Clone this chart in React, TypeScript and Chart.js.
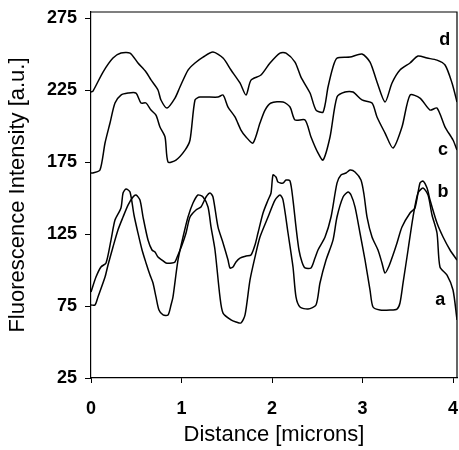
import React, { useEffect, useRef } from "react";
import { Chart, registerables } from "chart.js";

Chart.register(...registerables);

// Distance [microns] and fluorescence intensity [a.u.]
const aX = [0, 0.055, 0.11, 0.166, 0.221, 0.265, 0.331, 0.354, 0.387, 0.431, 0.475, 0.519, 0.564, 0.608, 0.652, 0.685, 0.718, 0.751, 0.796, 0.851, 0.884, 0.906, 0.961, 1.017, 1.072, 1.127, 1.182, 1.238, 1.293, 1.326, 1.37, 1.425, 1.459, 1.547, 1.602, 1.657, 1.702, 1.757, 1.812, 1.867, 1.956, 2.033, 2.088, 2.122, 2.177, 2.232, 2.265, 2.309, 2.398, 2.486, 2.53, 2.597, 2.674, 2.718, 2.785, 2.84, 2.873, 2.917, 2.972, 3.028, 3.083, 3.116, 3.193, 3.304, 3.381, 3.414, 3.448, 3.503, 3.558, 3.613, 3.669, 3.724, 3.768, 3.823, 3.856, 3.934, 4.0, 4.044];
const aY = [84.7, 95.1, 102.1, 104.9, 120.8, 134.7, 143.1, 153.5, 156.3, 154.2, 138.2, 125.7, 113.9, 104.9, 96.5, 91.0, 81.3, 72.2, 68.8, 68.8, 75.7, 81.3, 106.9, 122.9, 136.8, 146.5, 152.1, 150.7, 143.8, 129.9, 113.9, 81.3, 70.1, 65.3, 63.9, 63.2, 68.8, 93.1, 109.0, 122.9, 136.8, 148.6, 152.1, 148.6, 125.7, 102.1, 81.3, 74.3, 72.9, 75.7, 91.0, 106.9, 120.8, 136.8, 150.7, 154.2, 152.1, 143.8, 125.7, 106.9, 86.1, 74.3, 72.2, 72.2, 72.9, 77.1, 91.0, 113.9, 136.8, 153.5, 156.9, 152.1, 138.2, 125.7, 102.1, 96.5, 86.1, 65.3];

const bX = [0, 0.044, 0.077, 0.155, 0.188, 0.243, 0.298, 0.354, 0.409, 0.464, 0.497, 0.541, 0.575, 0.63, 0.674, 0.707, 0.74, 0.785, 0.829, 0.895, 0.928, 0.961, 1.006, 1.05, 1.094, 1.16, 1.215, 1.271, 1.315, 1.348, 1.403, 1.459, 1.514, 1.536, 1.569, 1.602, 1.646, 1.713, 1.768, 1.812, 1.845, 1.901, 1.956, 1.989, 2.011, 2.044, 2.066, 2.122, 2.155, 2.199, 2.232, 2.265, 2.298, 2.331, 2.365, 2.431, 2.475, 2.508, 2.586, 2.652, 2.718, 2.762, 2.818, 2.862, 2.917, 2.983, 3.017, 3.05, 3.105, 3.171, 3.215, 3.249, 3.293, 3.337, 3.381, 3.436, 3.525, 3.58, 3.635, 3.669, 3.713, 3.746, 3.823, 3.89, 3.967, 4.044];
const bY = [75.7, 75.7, 81.3, 95.1, 103.5, 116.0, 127.8, 136.8, 145.1, 150.7, 152.1, 148.6, 136.8, 120.8, 113.9, 112.5, 109.0, 106.9, 104.9, 104.9, 105.6, 110.4, 117.4, 125.7, 136.8, 141.7, 143.8, 150.7, 153.5, 150.7, 129.9, 118.8, 106.9, 101.4, 102.1, 105.6, 108.3, 109.7, 110.4, 117.4, 125.7, 139.6, 148.6, 153.5, 166.0, 164.6, 161.1, 160.4, 162.5, 161.8, 148.6, 129.9, 113.9, 105.6, 101.4, 101.4, 108.3, 113.9, 122.9, 136.8, 160.4, 166.0, 167.4, 169.4, 168.1, 162.5, 152.1, 136.8, 122.9, 113.9, 104.9, 97.9, 102.8, 110.4, 118.8, 129.9, 139.6, 143.1, 160.4, 161.8, 156.9, 148.6, 132.6, 122.9, 113.9, 106.9];

const cX = [0, 0.022, 0.099, 0.155, 0.21, 0.265, 0.331, 0.409, 0.497, 0.552, 0.608, 0.663, 0.718, 0.762, 0.818, 0.851, 0.939, 1.039, 1.094, 1.149, 1.204, 1.403, 1.459, 1.514, 1.591, 1.657, 1.713, 1.79, 1.867, 1.923, 1.989, 2.122, 2.199, 2.254, 2.365, 2.431, 2.508, 2.564, 2.641, 2.718, 2.807, 2.895, 2.994, 3.105, 3.16, 3.249, 3.337, 3.436, 3.525, 3.635, 3.746, 3.823, 3.912, 4.0, 4.044];
const cY = [167.4, 167.4, 169.4, 188.2, 202.1, 216.0, 221.5, 222.9, 222.9, 216.0, 216.0, 211.1, 207.6, 199.3, 192.4, 175.0, 176.4, 183.3, 190.3, 218.1, 220.1, 220.1, 221.5, 213.2, 206.3, 197.2, 192.4, 188.2, 202.1, 211.1, 216.0, 216.7, 213.2, 204.2, 204.2, 192.4, 181.3, 176.4, 192.4, 220.1, 223.6, 223.6, 218.1, 216.0, 206.3, 195.1, 184.7, 199.3, 221.5, 219.4, 211.1, 212.5, 199.3, 190.3, 183.3];

const dX = [0, 0.022, 0.133, 0.243, 0.331, 0.431, 0.519, 0.608, 0.663, 0.74, 0.773, 0.84, 0.928, 0.983, 1.072, 1.149, 1.238, 1.348, 1.459, 1.547, 1.646, 1.713, 1.768, 1.878, 1.978, 2.088, 2.155, 2.254, 2.32, 2.42, 2.486, 2.564, 2.619, 2.674, 2.718, 2.862, 2.994, 3.083, 3.16, 3.249, 3.326, 3.414, 3.525, 3.613, 3.713, 3.823, 3.912, 3.989, 4.044];
const dY = [223.6, 224.3, 237.5, 247.2, 250.7, 250.7, 243.8, 237.5, 232.0, 225.0, 218.1, 212.5, 219.4, 227.1, 238.9, 243.8, 247.9, 251.4, 247.2, 238.9, 229.9, 221.5, 231.9, 235.4, 243.8, 250.7, 250.7, 244.4, 234.0, 222.9, 211.1, 209.7, 227.1, 241.0, 247.2, 247.9, 250.0, 244.4, 230.6, 216.7, 229.9, 238.9, 243.8, 248.6, 247.2, 245.8, 242.4, 229.9, 216.7];

const xTicks = [0, 1, 2, 3, 4];
const yTicks = [25, 75, 125, 175, 225, 275];

// curve letters and their anchor points in data units
const curveNames = ["a", "b", "c", "d"];
const curveNameX = [3.86, 3.89, 3.89, 3.91];
const curveNameY = [79.2, 154.4, 183.3, 259.7];

const toPoints = (xs: number[], ys: number[]) => xs.map((x, i) => ({ x, y: ys[i] }));

export default function App() {
  const ref = useRef<HTMLCanvasElement | null>(null);

  useEffect(() => {
    if (!ref.current) return;
    const tickFont = { family: "'Liberation Sans', Arial, sans-serif", size: 18, weight: "bold" as const };
    const titleFont = { family: "'Liberation Sans', Arial, sans-serif", size: 22, weight: "normal" as const };

    const framePlugin = {
      id: "frameAndNames",
      afterDatasetsDraw(chart: any) {
        const { ctx, chartArea, scales } = chart;
        ctx.save();
        ctx.strokeStyle = "#000";
        ctx.lineWidth = 1.2;
        ctx.beginPath();
        ctx.moveTo(chartArea.left, chartArea.top);
        ctx.lineTo(chartArea.right, chartArea.top);
        ctx.lineTo(chartArea.right, chartArea.bottom);
        ctx.stroke();
        ctx.fillStyle = "#000";
        ctx.font = "bold 18px 'Liberation Sans', Arial, sans-serif";
        ctx.textAlign = "center";
        ctx.textBaseline = "middle";
        curveNames.forEach((n, i) => {
          ctx.fillText(n, scales.x.getPixelForValue(curveNameX[i]), scales.y.getPixelForValue(curveNameY[i]));
        });
        ctx.restore();
      },
    };

    const mk = (xs: number[], ys: number[], label: string) => ({
      label,
      data: toPoints(xs, ys),
      borderColor: "#000",
      borderWidth: 1.5,
      pointRadius: 0,
      tension: 0.25,
      fill: false,
    });

    const chart = new Chart(ref.current, {
      type: "line",
      data: {
        datasets: [mk(aX, aY, "a"), mk(bX, bY, "b"), mk(cX, cY, "c"), mk(dX, dY, "d")],
      },
      options: {
        animation: false,
        responsive: true,
        maintainAspectRatio: false,
        layout: { padding: { top: 12, right: 2, left: 0, bottom: 0 } },
        plugins: { legend: { display: false }, tooltip: { enabled: false } },
        scales: {
          x: {
            type: "linear",
            min: 0,
            max: 4.044,
            afterBuildTicks: (s: any) => {
              s.ticks = xTicks.map((v) => ({ value: v }));
            },
            afterFit: (s: any) => {
              s.height = 72;
              s.paddingLeft = 0;
              s.paddingRight = 0;
            },
            grid: { display: true, drawOnChartArea: false, drawTicks: true, tickLength: 5, color: "#000" },
            border: { display: true, color: "#000", width: 1.2 },
            ticks: { color: "#000", font: tickFont, padding: 15, maxRotation: 0, autoSkip: false },
            title: { display: true, text: "Distance [microns]", color: "#000", font: titleFont, padding: { top: 0, bottom: 2 } },
          },
          y: {
            type: "linear",
            min: 25,
            max: 279.2,
            afterBuildTicks: (s: any) => {
              s.ticks = yTicks.map((v) => ({ value: v }));
            },
            afterFit: (s: any) => {
              s.width = 91;
              s.paddingTop = 0;
              s.paddingBottom = 0;
            },
            grid: { display: true, drawOnChartArea: false, drawTicks: true, tickLength: 6, color: "#000" },
            border: { display: true, color: "#000", width: 1.2 },
            ticks: { color: "#000", font: tickFont, padding: 8, autoSkip: false },
            title: { display: true, text: "Fluorescence Intensity [a.u.]", color: "#000", font: titleFont, padding: { top: 5, bottom: 0 } },
          },
        },
      },
      plugins: [framePlugin],
    } as any);
    return () => chart.destroy();
  }, []);

  return (
    <div style={{ position: "fixed", left: 0, top: 0, width: 459, height: 450, background: "#fff" }}>
      <canvas ref={ref} />
    </div>
  );
}
